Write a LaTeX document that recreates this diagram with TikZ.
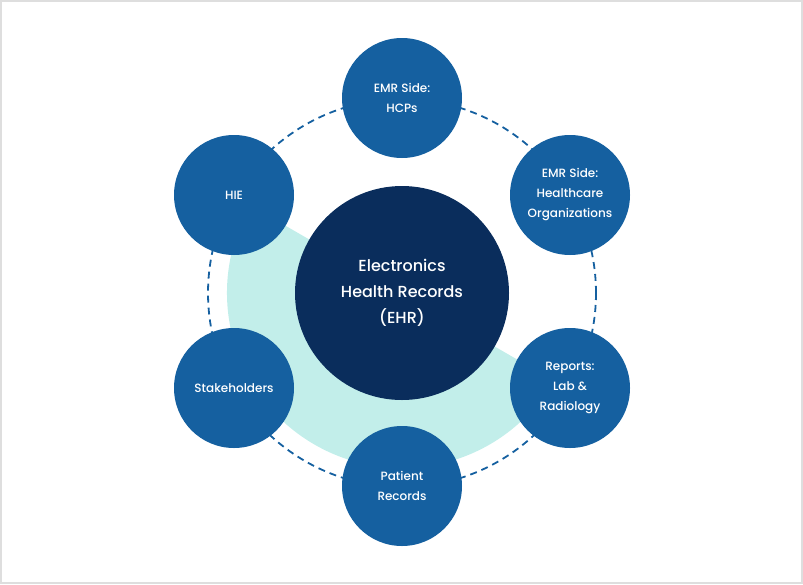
\documentclass[tikz,border=0pt]{standalone}
\usepackage{fontspec}
\setmainfont{Poppins}[UprightFont={* Medium}]
\definecolor{outerblue}{HTML}{1560A0}
\definecolor{navy}{HTML}{0A2D5C}
\definecolor{teal}{HTML}{C2EEEA}
\definecolor{frame}{HTML}{DEDEDE}
\begin{document}
\begin{tikzpicture}[x=1pt,y=-1pt,
  outer/.style={circle,fill=outerblue,minimum size=120pt,inner sep=0pt,text=white,
    font=\fontsize{12}{20}\selectfont,align=center},
  core/.style={circle,fill=navy,minimum size=214pt,inner sep=0pt,text=white,
    font=\fontsize{16}{26}\selectfont,align=center},
  ring/.style={outerblue,line width=1.8pt,dash pattern=on 7pt off 5pt}]
\useasboundingbox (0,0) rectangle (803,584);
\draw[frame,line width=2pt] (1,1) rectangle (802,583);
\coordinate (c) at (402,293);
\fill[teal] (c) -- +(30:175) arc[start angle=30,end angle=210,radius=175] -- cycle;
\draw[ring] (c) circle[radius=194];
\node[core] (ehr) at (c) {Electronics\\Health Records\\(EHR)};
\node[outer] (hcp) at (402,98) {EMR Side:\\HCPs};
\node[outer] (org) at (570,195) {EMR Side:\\Healthcare\\Organizations};
\node[outer] (rep) at (570,388) {Reports:\\Lab \&\\Radiology};
\node[outer] (pat) at (402,486) {Patient\\Records};
\node[outer] (stk) at (234,388) {Stakeholders};
\node[outer] (hie) at (234,195) {HIE};
\end{tikzpicture}
\end{document}
